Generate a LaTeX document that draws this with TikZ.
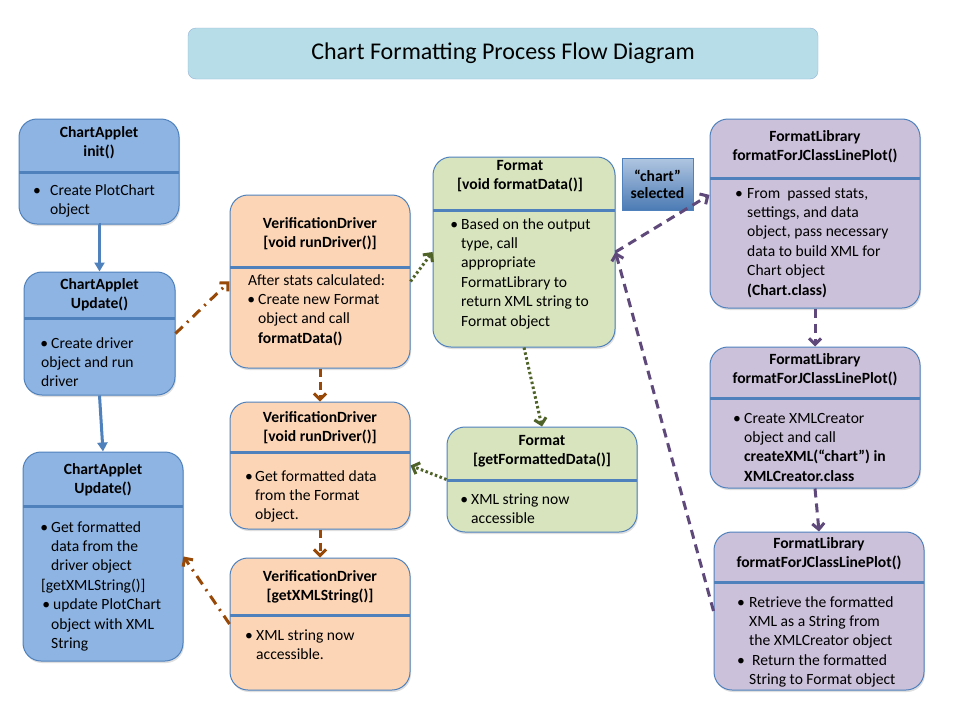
\documentclass[tikz,border=0pt]{standalone}
\usepackage{fontspec}
\setmainfont{Carlito}
\usepackage[HTML]{xcolor}
\usetikzlibrary{positioning, arrows.meta, shadows}

\definecolor{boxline}{HTML}{4F81BD}
\definecolor{blueF}{HTML}{8DB4E2}
\definecolor{orangeF}{HTML}{FBD5B5}
\definecolor{greenF}{HTML}{D7E4BD}
\definecolor{purpleF}{HTML}{CCC1DA}
\definecolor{titleF}{HTML}{B7DEE8}
\definecolor{brownA}{HTML}{984807}
\definecolor{greenA}{HTML}{4F6228}
\definecolor{purpleA}{HTML}{5F497A}

\newcommand{\bul}[2][l]{\makebox[#2][#1]{\textbullet\hspace{3pt}}}

\begin{document}
\begin{tikzpicture}[x=1pt, y=-1pt,
  box/.style={draw=boxline, line width=1pt, rounded corners=18pt, inner sep=0pt,
    drop shadow={opacity=0.25, shadow xshift=1pt, shadow yshift=-2pt}},
  sepline/.style={boxline, line width=3pt},
  head/.style={align=center, font=\bfseries\fontsize{15.6}{19.4}\selectfont, inner sep=0pt},
  body/.style={align=left, anchor=base west, font=\fontsize{15.6}{19.4}\selectfont, inner sep=0pt},
  bluearr/.style={draw=boxline, line width=3pt, -{Triangle[length=9pt, width=10pt]}},
  brownarr/.style={draw=brownA, line width=3pt, -{Straight Barb[length=6pt, width=12pt]}},
  greenarr/.style={draw=greenA, line width=3pt, dash pattern=on 2.5pt off 2.5pt, -{Straight Barb[length=6pt, width=12pt]}},
  purplearr/.style={draw=purpleA, line width=3pt, dash pattern=on 9pt off 6pt, -{Straight Barb[length=6pt, width=12pt]}}
]
\useasboundingbox[fill=white] (0,0) rectangle (960,720);

% title
\node[draw=boxline!60, fill=titleF, rounded corners=8pt, minimum width=630, minimum height=51,
  font=\fontsize{24}{28}\selectfont] (title) at (503,53.5) {Chart Formatting Process Flow Diagram};

% ChartApplet column (body nodes sit on the baseline of their last line)
\node[box, fill=blueF, minimum width=160, minimum height=105] (init) at (99,171.5) {};
\draw[sepline] (19,172) -- (179,172);
\node[head] (inith) at (99,142.5) {ChartApplet\\init()};
\node[body] (initb) at (33,214.4) {\bul{17pt}Create PlotChart\\\hspace*{17pt}object};

\node[box, fill=blueF, minimum width=151, minimum height=123] (upd1) at (99.5,333.5) {};
\draw[sepline] (24,318) -- (175,318);
\node[head] (upd1h) at (99.5,295) {ChartApplet\\Update()};
\node[body] (upd1b) at (41,386.8) {\hspace*{2pt}\bul[r]{8pt}Create driver\\object and run\\driver};

\node[box, fill=blueF, minimum width=160, minimum height=209] (upd2) at (103,556.5) {};
\draw[sepline] (23,506) -- (183,506);
\node[head] (upd2h) at (103,479.5) {ChartApplet\\Update()};
\node[body] (upd2b) at (41,648.4) {\hspace*{2pt}\bul[r]{8pt}Get formatted\\
  \hspace*{10pt}data from the\\
  \hspace*{10pt}driver object\\
  {[}getXMLString()]\\
  \hspace*{6pt}\bul[r]{6pt}update PlotChart\\
  \hspace*{10pt}object with XML\\
  \hspace*{10pt}String};

% VerificationDriver column
\node[box, fill=orangeF, minimum width=180, minimum height=173] (drv1) at (320,281.5) {};
\draw[sepline] (230,267) -- (410,267);
\node[head] (drv1h) at (320,233.5) {VerificationDriver\\{[}void runDriver()]};
\node[body] (drv1b) at (248,343.2) {After stats calculated:\\
  \hspace*{2pt}\bul[r]{8pt}Create new Format\\
  \hspace*{10pt}object and call\\
  \hspace*{10pt}\textbf{formatData()}};

\node[box, fill=orangeF, minimum width=180, minimum height=127] (drv2) at (320,465.5) {};
\draw[sepline] (230,452) -- (410,452);
\node[head] (drv2h) at (320,427.5) {VerificationDriver\\{[}void runDriver()]};
\node[body] (drv2b) at (245,519.8) {\bul{10pt}Get formatted data\\
  \hspace*{10pt}from the Format\\
  \hspace*{10pt}object.};

\node[box, fill=orangeF, minimum width=180, minimum height=132] (drv3) at (320,624) {};
\draw[sepline] (230,615) -- (410,615);
\node[head] (drv3h) at (320,587) {VerificationDriver\\{[}getXMLString()]};
\node[body] (drv3b) at (245,659.4) {\bul{11pt}XML string now\\\hspace*{11pt}accessible.};

% Format column
\node[box, fill=greenF, minimum width=182, minimum height=190] (fmt1) at (524,252) {};
\draw[sepline] (433,210) -- (615,210);
\node[head] (fmt1h) at (520,176) {Format\\{[}void formatData()]};
\node[body] (fmt1b) at (453,326) {\bul[r]{8pt}Based on the output\\
  \hspace*{8pt}type, call\\
  \hspace*{8pt}appropriate\\
  \hspace*{8pt}FormatLibrary to\\
  \hspace*{8pt}return XML string to\\
  \hspace*{8pt}Format object};

\node[box, fill=greenF, minimum width=190, minimum height=105] (fmt2) at (542,479.5) {};
\draw[sepline] (447,480) -- (637,480);
\node[head] (fmt2h) at (542,451) {Format\\{[}getFormattedData()]};
\node[body] (fmt2b) at (464,523.4) {\bul[r]{7pt}XML string now\\\hspace*{7pt}accessible};

\node[draw=boxline, top color=boxline!45, bottom color=boxline!95!black, minimum width=71, minimum height=52,
  inner sep=0pt, align=center, font=\bfseries\fontsize{15.6}{17}\selectfont] (sel) at (657.5,184) {“chart”\\selected};

% FormatLibrary column
\node[box, fill=purpleF, minimum width=210, minimum height=189] (lib1) at (815,213.5) {};
\draw[sepline] (710,178) -- (920,178);
\node[head] (lib1h) at (815,147) {FormatLibrary\\formatForJClassLinePlot()};
\node[body] (lib1b) at (735,295) {\bul{12pt}From\ \ passed stats,\\
  \hspace*{12pt}settings, and data\\
  \hspace*{12pt}object, pass necessary\\
  \hspace*{12pt}data to build XML for\\
  \hspace*{12pt}Chart object\\
  \hspace*{12pt}\textbf{(Chart.class)}};

\node[box, fill=purpleF, minimum width=210, minimum height=141] (lib2) at (815,417.5) {};
\draw[sepline] (710,398) -- (920,398);
\node[head] (lib2h) at (815,370) {FormatLibrary\\formatForJClassLinePlot()};
\node[body] (lib2b) at (733,481.2) {\bul{11pt}Create XMLCreator\\
  \hspace*{11pt}object and call\\
  \hspace*{11pt}\textbf{createXML(“chart”) in}\\
  \hspace*{11pt}\textbf{XMLCreator.class}};

\node[box, fill=purpleF, minimum width=210, minimum height=158] (lib3) at (819,611) {};
\draw[sepline] (714,582) -- (924,582);
\node[head] (lib3h) at (819,553.5) {FormatLibrary\\formatForJClassLinePlot()};
\node[body] (lib3b) at (737,684.6) {\bul{12pt}Retrieve the formatted\\
  \hspace*{12pt}XML as a String from\\
  \hspace*{12pt}the XMLCreator object\\
  \bul{15pt}Return the formatted\\
  \hspace*{12pt}String to Format object};

% connectors
\draw[bluearr] (init.south) -- (upd1.south |- init.south) -- (upd1.north);
\draw[bluearr] (upd1.south) -- (upd2.north);

\draw[brownarr, dash pattern=on 10pt off 6pt on 2pt off 6pt] (upd1.east) -- (drv1.west);
\draw[brownarr, dash pattern=on 8pt off 5pt] (drv1.south) -- (drv2.north);
\draw[brownarr, dash pattern=on 8pt off 5pt] (drv2.south) -- (drv3.north);
\draw[brownarr, dash pattern=on 10pt off 6pt on 2pt off 6pt] (drv3.west) -- (upd2.east);

\draw[greenarr] (drv1.east) -- (fmt1.west);
\draw[greenarr] (fmt1.south) -- (fmt2.north);
\draw[greenarr] (fmt2.west) -- (drv2.east);

\draw[purplearr] (fmt1.east) -- (lib1.170);
\draw[purplearr] (lib1.south) -- (lib2.north);
\draw[purplearr] (lib2.south) -- (lib3.north);
\draw[purplearr] (lib3.west) -- (fmt1.east);
\end{tikzpicture}
\end{document}
